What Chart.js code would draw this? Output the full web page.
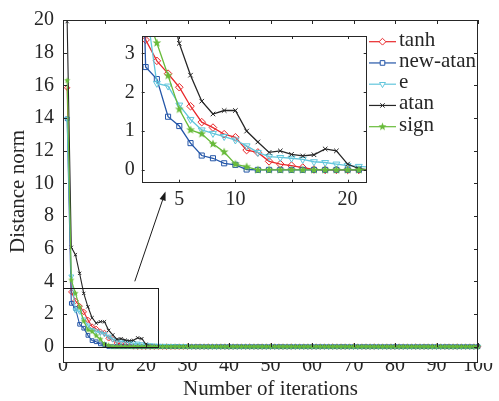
<!DOCTYPE html>
<html><head><meta charset="utf-8">
<script src="https://cdn.jsdelivr.net/npm/chart.js@4"></script>
<style>
html,body{margin:0;padding:0;background:#fff;}
#wrap{position:relative;width:499px;height:401px;overflow:hidden;}
#main{position:absolute;left:0;top:0;}
#inset{position:absolute;left:100px;top:26px;}
</style></head><body>
<div id="wrap"><canvas id="main" width="499" height="401"></canvas><canvas id="inset" width="275" height="184"></canvas></div>
<script>
// ---------- data ----------
const iterations = [
1,2,3,4,5,6,7,8,9,10,11,12,13,14,15,16,17,18,19,20,
21,22,23,24,25,26,27,28,29,30,31,32,33,34,35,36,37,38,39,40,
41,42,43,44,45,46,47,48,49,50,51,52,53,54,55,56,57,58,59,60,
61,62,63,64,65,66,67,68,69,70,71,72,73,74,75,76,77,78,79,80,
81,82,83,84,85,86,87,88,89,90,91,92,93,94,95,96,97,98,99,100];
const seriesNames = ['tanh','new-atan','e','atan','sign'];
const tanhValues = [
15.85,3.35,2.81,2.48,2.13,1.64,1.23,1.09,0.92,0.84,
0.51,0.45,0.22,0.15,0.11,0.06,0.01,0,0,0,
0,0,0,0,0,0,0,0,0,0, 0,0,0,0,0,0,0,0,0,0,
0,0,0,0,0,0,0,0,0,0, 0,0,0,0,0,0,0,0,0,0,
0,0,0,0,0,0,0,0,0,0, 0,0,0,0,0,0,0,0,0,0,
0,0,0,0,0,0,0,0,0,0, 0,0,0,0,0,0,0,0,0,0];
const newAtanValues = [
13.95,2.65,2.34,1.37,1.13,0.69,0.37,0.30,0.17,0.13,
0.01,0,0,0,0,0,0,0,0,0,
0,0,0,0,0,0,0,0,0,0, 0,0,0,0,0,0,0,0,0,0,
0,0,0,0,0,0,0,0,0,0, 0,0,0,0,0,0,0,0,0,0,
0,0,0,0,0,0,0,0,0,0, 0,0,0,0,0,0,0,0,0,0,
0,0,0,0,0,0,0,0,0,0, 0,0,0,0,0,0,0,0,0,0];
const eValues = [
13.95,4.30,2.23,2.16,1.67,1.30,1.03,0.94,0.86,0.77,
0.62,0.45,0.34,0.32,0.30,0.27,0.21,0.19,0.15,0.11,
0.09,0.07,0.06,0.05,0.05,0.04,0.04,0.03,0.03,0.02,
0,0,0,0,0,0,0,0,0,0,
0,0,0,0,0,0,0,0,0,0, 0,0,0,0,0,0,0,0,0,0,
0,0,0,0,0,0,0,0,0,0, 0,0,0,0,0,0,0,0,0,0,
0,0,0,0,0,0,0,0,0,0, 0,0,0,0,0,0,0,0,0,0];
const atanValues = [
19.9,6.08,5.63,4.49,3.26,2.44,1.77,1.44,1.53,1.53,
1.00,0.72,0.45,0.49,0.40,0.36,0.39,0.54,0.49,0.15,
0.03,0,0,0,0,0,0,0,0,0,
0,0,0,0,0,0,0,0,0,0,
0,0,0,0,0,0,0,0,0,0, 0,0,0,0,0,0,0,0,0,0,
0,0,0,0,0,0,0,0,0,0, 0,0,0,0,0,0,0,0,0,0,
0,0,0,0,0,0,0,0,0,0, 0,0,0,0,0,0,0,0,0,0];
const signValues = [
16.3,4.08,3.27,2.43,1.56,1.03,0.93,0.67,0.46,0.15,
0.08,0,0,0,0,0,0,0,0,0,
0,0,0,0,0,0,0,0,0,0, 0,0,0,0,0,0,0,0,0,0,
0,0,0,0,0,0,0,0,0,0, 0,0,0,0,0,0,0,0,0,0,
0,0,0,0,0,0,0,0,0,0, 0,0,0,0,0,0,0,0,0,0,
0,0,0,0,0,0,0,0,0,0, 0,0,0,0,0,0,0,0,0,0];
const seriesValues = [tanhValues, newAtanValues, eValues, atanValues, signValues];

const xTicks = [0,10,20,30,40,50,60,70,80,90,100];
const yTicks = [0,2,4,6,8,10,12,14,16,18,20];
const insetXTicks = [5,10,15,20];
const insetXLabels = ['5','10','','20'];
const insetYTicks = [0,1,2,3];
const xTitle = 'Number of iterations';
const yTitle = 'Distance norm';

// zoom box and arrow, in data units of the main axes
const zoomBox = {x0:0, x1:23, y0:0, y1:3.57};
const arrowFrom = {x:17.3, y:4.0};
const arrowTo = {x:24.7, y:9.5};

// ---------- styles ----------
const FONT = '"Liberation Serif", "Times New Roman", Times, serif';
const AX = '#262626';
const seriesColors = ['#e8282b','#2456a8','#62c6dc','#262626','#68bb3a'];
const markerKinds = ['diamond','square','triDown','cross','star'];

function makeStar(R, color){
  const s = Math.ceil(R*2)+2;
  const c = document.createElement('canvas'); c.width = s; c.height = s;
  const g = c.getContext('2d');
  g.fillStyle = color; g.beginPath();
  for(let k=0;k<10;k++){
    const r = k%2===0 ? R : R*0.42;
    const a = -Math.PI/2 + k*Math.PI/5;
    const px = s/2 + r*Math.cos(a), py = s/2 + r*Math.sin(a);
    k===0 ? g.moveTo(px,py) : g.lineTo(px,py);
  }
  g.closePath(); g.fill();
  return c;
}

function pointOpts(kind, color, big){
  const f = big ? 1 : 0.72;
  switch(kind){
    case 'diamond': return {pointStyle:'rectRot', pointRadius:3.8*f, pointRotation:0};
    case 'square': return {pointStyle:'rect', pointRadius:3.6*f, pointRotation:0};
    case 'triDown': return {pointStyle:'triangle', pointRadius:4.0*f, pointRotation:180};
    case 'cross': return {pointStyle:'crossRot', pointRadius:3.2*f, pointRotation:0};
    case 'star': return {pointStyle:makeStar(4.6*f, color), pointRadius:4.6*f, pointRotation:0};
  }
}

function buildDatasets(big, clip){
  return seriesNames.map((name,i)=>{
    const color = seriesColors[i];
    const p = pointOpts(markerKinds[i], color, big);
    return Object.assign({
      label:name,
      data: iterations.map((x,j)=>({x:x, y:seriesValues[i][j]})),
      borderColor:color, borderWidth: big ? 1.3 : 1.1,
      pointBorderColor:color,
      pointBackgroundColor: markerKinds[i]==='star' ? color : 'rgba(255,255,255,0)',
      pointBorderWidth:1,
      tension:0, order:5-i, clip:clip
    }, p);
  });
}

function drawMarker(ctx, kind, color, x, y){
  ctx.save();
  ctx.strokeStyle = color; ctx.fillStyle = color; ctx.lineWidth = 1;
  ctx.beginPath();
  if(kind==='diamond'){ const r=3.4; ctx.moveTo(x-r,y); ctx.lineTo(x,y-r); ctx.lineTo(x+r,y); ctx.lineTo(x,y+r); ctx.closePath(); ctx.fillStyle='#fff'; ctx.fill(); ctx.stroke(); }
  else if(kind==='square'){ const r=2.3; ctx.rect(x-r,y-r,2*r,2*r); ctx.fillStyle='#fff'; ctx.fill(); ctx.stroke(); }
  else if(kind==='triDown'){ const r=3.4; ctx.moveTo(x-r*0.87,y-r*0.5); ctx.lineTo(x+r*0.87,y-r*0.5); ctx.lineTo(x,y+r); ctx.closePath(); ctx.fillStyle='#fff'; ctx.fill(); ctx.stroke(); }
  else if(kind==='cross'){ const r=2.2; ctx.moveTo(x-r,y-r); ctx.lineTo(x+r,y+r); ctx.moveTo(x+r,y-r); ctx.lineTo(x-r,y+r); ctx.stroke(); }
  else if(kind==='star'){ const st = makeStar(4.2, color); ctx.drawImage(st, x-st.width/2, y-st.height/2); }
  ctx.restore();
}

function seg(ctx,x0,y0,x1,y1){ ctx.beginPath(); ctx.moveTo(x0,y0); ctx.lineTo(x1,y1); ctx.stroke(); }

const mainDecor = {
  id:'mainDecor',
  afterDraw(chart){
    const {ctx, chartArea:a} = chart; const x = chart.scales.x, y = chart.scales.y;
    ctx.save();
    ctx.strokeStyle = AX; ctx.lineWidth = 1;
    ctx.strokeRect(Math.round(a.left)+0.5, Math.round(a.top)+0.5, Math.round(a.right-a.left)-1, Math.round(a.bottom-a.top)-1);
    // inward ticks
    yTicks.forEach(v=>{ const py = Math.round(y.getPixelForValue(v))+0.5; seg(ctx,a.left,py,a.left+4,py); seg(ctx,a.right,py,a.right-4,py); });
    const p0 = Math.round(y.getPixelForValue(0));
    xTicks.forEach(v=>{ const px = Math.round(x.getPixelForValue(v))+0.5; seg(ctx,px,p0,px,p0-4); seg(ctx,px,a.top,px,a.top+4); });
    // zoom box
    const bx0 = Math.round(x.getPixelForValue(zoomBox.x0))+0.5, bx1 = Math.round(x.getPixelForValue(zoomBox.x1))+0.5;
    const by0 = Math.round(y.getPixelForValue(zoomBox.y0))+0.5, by1 = Math.round(y.getPixelForValue(zoomBox.y1))+0.5;
    ctx.strokeStyle = '#1a1a1a';
    ctx.strokeRect(bx0, by1, bx1-bx0, by0-by1);
    // arrow
    const ax0 = x.getPixelForValue(arrowFrom.x), ay0 = y.getPixelForValue(arrowFrom.y);
    const ax1 = x.getPixelForValue(arrowTo.x), ay1 = y.getPixelForValue(arrowTo.y);
    const ang = Math.atan2(ay1-ay0, ax1-ax0), L = 9, W = 3.2;
    const hx = ax1 - L*Math.cos(ang), hy = ay1 - L*Math.sin(ang);
    seg(ctx, ax0, ay0, hx, hy);
    ctx.fillStyle = '#1a1a1a'; ctx.beginPath();
    ctx.moveTo(ax1, ay1);
    ctx.lineTo(hx + W*Math.sin(ang), hy - W*Math.cos(ang));
    ctx.lineTo(hx - W*Math.sin(ang), hy + W*Math.cos(ang));
    ctx.closePath(); ctx.fill();
    // legend
    const lx0 = 369, lx1 = 396, tx = 399, top = 41.7, step = 21.25;
    ctx.font = '21px ' + FONT; ctx.textBaseline = 'middle'; ctx.textAlign = 'left';
    seriesNames.forEach((name,i)=>{
      const cy = top + i*step;
      ctx.strokeStyle = seriesColors[i]; ctx.lineWidth = 1.2;
      seg(ctx, lx0, cy, lx1, cy);
      drawMarker(ctx, markerKinds[i], seriesColors[i], (lx0+lx1)/2, cy);
      ctx.fillStyle = AX; ctx.fillText(name, tx, cy-1.5);
    });
    ctx.restore();
  }
};

const insetDecor = {
  id:'insetDecor',
  beforeDraw(chart){
    const {ctx, chartArea:a} = chart;
    ctx.save(); ctx.fillStyle = '#fff'; ctx.fillRect(a.left, a.top, a.right-a.left, a.bottom-a.top); ctx.restore();
  },
  afterDraw(chart){
    const {ctx, chartArea:a} = chart; const x = chart.scales.x, y = chart.scales.y;
    ctx.save(); ctx.strokeStyle = AX; ctx.lineWidth = 1;
    ctx.strokeRect(Math.round(a.left)+0.5, Math.round(a.top)+0.5, Math.round(a.right-a.left)-1, Math.round(a.bottom-a.top)-1);
    insetYTicks.forEach(v=>{ const py = Math.round(y.getPixelForValue(v))+0.5; seg(ctx,a.left,py,a.left+3,py); seg(ctx,a.right,py,a.right-3,py); });
    insetXTicks.forEach(v=>{ const px = Math.round(x.getPixelForValue(v))+0.5; seg(ctx,px,a.bottom,px,a.bottom-3); seg(ctx,px,a.top,px,a.top+3); });
    ctx.restore();
  }
};

function setTicks(list){ return s=>{ s.ticks = list.map(v=>({value:v})); }; }

new Chart(document.getElementById('main'), {
  type:'line',
  data:{datasets: buildDatasets(false, false)},
  options:{
    responsive:false, animation:false, devicePixelRatio:1,
    layout:{padding:{left:0, top:20, right:21, bottom:0}},
    plugins:{legend:{display:false}, tooltip:{enabled:false}},
    scales:{
      x:{type:'linear', min:0, max:100,
        grid:{display:false, drawTicks:false}, border:{display:false},
        afterBuildTicks:setTicks(xTicks),
        afterFit:s=>{ s.height=38; s.paddingLeft=0; s.paddingRight=0; },
        ticks:{padding:-9, autoSkip:false, maxRotation:0, color:AX, font:{family:FONT, size:20}},
        title:{display:true, text:xTitle, color:AX, font:{family:FONT, size:21}, padding:{top:0, bottom:-1}}
      },
      y:{type:'linear', min:-1, max:20,
        grid:{display:false, drawTicks:false}, border:{display:false},
        afterBuildTicks:setTicks(yTicks),
        afterFit:s=>{ s.width=63; s.paddingTop=0; s.paddingBottom=0; },
        ticks:{padding:9, autoSkip:false, color:AX, font:{family:FONT, size:20}},
        title:{display:true, text:yTitle, color:AX, font:{family:FONT, size:21}, padding:{top:5.4, bottom:0}}
      }
    }
  },
  plugins:[mainDecor]
});

new Chart(document.getElementById('inset'), {
  type:'line',
  data:{datasets: buildDatasets(true, 0)},
  options:{
    responsive:false, animation:false, devicePixelRatio:1,
    layout:{padding:{left:0, top:10, right:8.3, bottom:0}},
    plugins:{legend:{display:false}, tooltip:{enabled:false}},
    scales:{
      x:{type:'linear', min:1.65, max:21.7,
        grid:{display:false, drawTicks:false}, border:{display:false},
        afterBuildTicks:setTicks(insetXTicks),
        afterFit:s=>{ s.height=27.3; s.paddingLeft=0; s.paddingRight=0; },
        ticks:{padding:5.3, autoSkip:false, maxRotation:0, color:AX, font:{family:FONT, size:20},
          callback:(v)=>{ const k = insetXTicks.indexOf(v); return k>=0 ? insetXLabels[k] : ''; }}
      },
      y:{type:'linear', min:-0.33, max:3.45,
        grid:{display:false, drawTicks:false}, border:{display:false},
        afterBuildTicks:setTicks(insetYTicks),
        afterFit:s=>{ s.width=41.7; s.paddingTop=0; s.paddingBottom=0; },
        ticks:{padding:7, autoSkip:false, color:AX, font:{family:FONT, size:20}}
      }
    }
  },
  plugins:[insetDecor]
});
</script>
</body></html>
